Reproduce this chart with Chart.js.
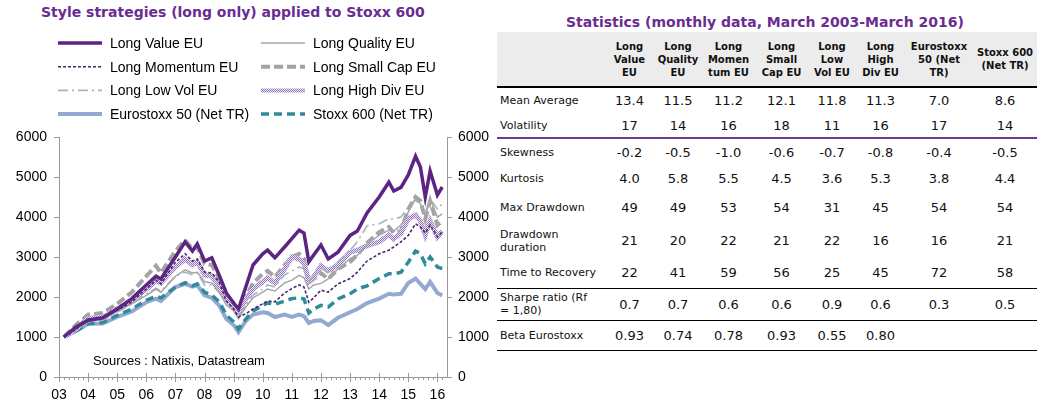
<!DOCTYPE html>
<html>
<head>
<meta charset="utf-8">
<script src="https://cdn.jsdelivr.net/npm/chart.js@4.4.1/dist/chart.umd.min.js"></script>
<style>
    body { margin: 0; background: #fff; width: 1042px; height: 413px; overflow: hidden; position: relative; }
    #chartBox { position: absolute; left: 0; top: 0; width: 490px; height: 413px; }
    .title { position: absolute; font-family: 'DejaVu Sans', Verdana, sans-serif; font-weight: bold; font-size: 14px; line-height: 16px; color: #6B2C91; white-space: nowrap; }
    #leftTitle { left: 41px; top: 4px; }
    #rightTitle { left: 566px; top: 14px; }
    #stats { position: absolute; left: 497px; top: 32px; width: 540px; border-collapse: collapse; table-layout: fixed; font-family: 'DejaVu Sans', Verdana, sans-serif; color: #111; }
    #stats td, #stats th { padding: 0; text-align: center; vertical-align: middle; }
    #stats th { background: #ECECEC; font-size: 10px; line-height: 13px; font-weight: bold; height: 54px; border-bottom: 2px solid #000; }
    #stats td { font-size: 13px; }
    #stats td.label { text-align: left; padding-left: 3px; font-size: 11px; line-height: 13px; }
    #stats tr.purple td { border-bottom: 2px solid #6B3D8F; }
    #stats tr.line td { border-bottom: 1.5px solid #000; }
</style>
</head>
<body>
<div id="leftTitle" class="title">Style strategies (long only) applied to Stoxx 600</div>
<div id="chartBox"><canvas id="styleChart"></canvas></div>
<div id="rightTitle" class="title">Statistics (monthly data, March 2003-March 2016)</div>
<table id="stats"></table>
<script>
// values (base 1000 in March 2003)
const months = [
    '2003-03', '2003-08', '2004-01', '2004-07', '2005-01', '2005-07', '2006-01', '2006-05', '2006-07', '2007-01',
    '2007-05', '2007-08', '2007-10', '2008-01', '2008-04', '2008-07', '2008-10', '2009-01', '2009-03', '2009-06',
    '2009-09', '2010-01', '2010-03', '2010-06', '2010-10', '2011-01', '2011-04', '2011-06', '2011-08', '2011-10',
    '2012-01', '2012-04', '2012-08', '2013-01', '2013-04', '2013-08', '2014-01', '2014-05', '2014-07', '2014-10',
    '2015-01', '2015-04', '2015-06', '2015-08', '2015-10', '2016-01', '2016-03'
];
const yearLabels = ['03', '04', '05', '06', '07', '08', '09', '10', '11', '12', '13', '14', '15', '16'];

const longValue = [1000, 1250, 1420, 1480, 1700, 1960, 2300, 2520, 2450, 3000,
    3380, 3150, 3330, 2900, 2980, 2550, 2100, 1850, 1700, 2250,
    2800, 3080, 3170, 2980, 3250, 3460, 3670, 3600, 2880, 3050,
    3300, 2950, 3120, 3540, 3650, 4100, 4500, 4870, 4650, 4740,
    5050, 5520, 5250, 4500, 5150, 4550, 4750];
const longQuality = [1000, 1180, 1400, 1430, 1650, 1830, 2040, 2200, 2120, 2520,
    2680, 2600, 2620, 2380, 2350, 2120, 1800, 1650, 1460, 1750,
    1980, 2120, 2200, 2150, 2350, 2420, 2540, 2480, 2200, 2300,
    2340, 2450, 2700, 2960, 3040, 3330, 3540, 3670, 3650, 3800,
    4120, 4480, 4330, 4020, 4450, 4000, 4080];
const longMomentum = [1000, 1190, 1450, 1470, 1670, 1880, 2200, 2420, 2330, 2870,
    3080, 2900, 2950, 2620, 2600, 2380, 1900, 1700, 1500, 1580,
    1700, 1830, 1900, 1880, 2100, 2210, 2300, 2250, 1870, 1980,
    2170, 2120, 2330, 2460, 2620, 2900, 3080, 3170, 3250, 3380,
    3540, 3830, 3750, 3600, 3800, 3500, 3620];
const longSmallCap = [1000, 1300, 1560, 1600, 1830, 2120, 2520, 2780, 2600, 3150,
    3420, 3200, 3250, 2830, 2800, 2480, 2000, 1850, 1670, 2000,
    2350, 2580, 2650, 2500, 2800, 3000, 3080, 2950, 2350, 2450,
    2600, 2450, 2700, 2880, 3050, 3350, 3620, 3750, 3600, 3650,
    4200, 4500, 4400, 3950, 4400, 3800, 3900];
const longLowVol = [1000, 1180, 1370, 1420, 1620, 1820, 2080, 2220, 2150, 2520,
    2620, 2560, 2600, 2300, 2300, 2120, 1850, 1700, 1500, 1800,
    2050, 2200, 2300, 2250, 2550, 2650, 2750, 2700, 2380, 2550,
    2720, 2620, 2880, 3170, 3380, 3780, 3830, 3960, 3950, 4000,
    4250, 4420, 4300, 4100, 4450, 4200, 4330];
const longHighDiv = [1000, 1200, 1470, 1480, 1700, 1900, 2200, 2400, 2350, 2750,
    2950, 2800, 2880, 2550, 2520, 2250, 1950, 1800, 1620, 1950,
    2200, 2380, 2480, 2350, 2700, 3000, 2950, 2850, 2380, 2500,
    2780, 2650, 2800, 3120, 3170, 3280, 3380, 3550, 3450, 3600,
    3950, 4050, 3900, 3550, 3900, 3500, 3650];
const eurostoxx50 = [1000, 1150, 1330, 1340, 1500, 1640, 1870, 1960, 1900, 2250,
    2330, 2260, 2300, 2040, 1980, 1790, 1450, 1300, 1120, 1400,
    1560, 1620, 1600, 1500, 1560, 1500, 1560, 1520, 1350, 1400,
    1420, 1300, 1480, 1620, 1700, 1850, 1960, 2080, 2060, 2080,
    2350, 2460, 2330, 2200, 2380, 2100, 2040];
const stoxx600 = [1000, 1150, 1330, 1360, 1540, 1700, 1920, 2020, 1980, 2250,
    2360, 2280, 2330, 2120, 2050, 1880, 1550, 1380, 1200, 1450,
    1650, 1790, 1850, 1820, 1900, 1960, 1980, 1950, 1600, 1700,
    1790, 1750, 1950, 2080, 2200, 2280, 2460, 2580, 2580, 2620,
    2870, 3150, 3080, 2830, 3000, 2750, 2710];

// statistics table
const statColumns = ['Long<br>Value<br>EU', 'Long<br>Quality<br>EU', 'Long<br>Momen<br>tum EU', 'Long<br>Small<br>Cap EU',
    'Long<br>Low<br>Vol EU', 'Long<br>High<br>Div EU', 'Eurostoxx<br>50 (Net<br>TR)', 'Stoxx 600<br>(Net TR)'];
const statLabels = ['Mean Average', 'Volatility', 'Skewness', 'Kurtosis', 'Max Drawdown', 'Drawdown<br>duration',
    'Time to Recovery', 'Sharpe ratio (Rf<br>= 1,80)', 'Beta Eurostoxx'];
const meanAverage = ['13.4', '11.5', '11.2', '12.1', '11.8', '11.3', '7.0', '8.6'];
const volatility = ['17', '14', '16', '18', '11', '16', '17', '14'];
const skewness = ['-0.2', '-0.5', '-1.0', '-0.6', '-0.7', '-0.8', '-0.4', '-0.5'];
const kurtosis = ['4.0', '5.8', '5.5', '4.5', '3.6', '5.3', '3.8', '4.4'];
const maxDrawdown = ['49', '49', '53', '54', '31', '45', '54', '54'];
const drawdownDuration = ['21', '20', '22', '21', '22', '16', '16', '21'];
const timeToRecovery = ['22', '41', '59', '56', '25', '45', '72', '58'];
const sharpeRatio = ['0.7', '0.7', '0.6', '0.6', '0.9', '0.6', '0.3', '0.5'];
const betaEurostoxx = ['0.93', '0.74', '0.78', '0.93', '0.55', '0.80', '', ''];

function buildTable() {
    const widths = [108, 49, 48, 53, 53, 48, 49, 68, 64];
    const heights = [26, 25, 27, 26, 32, 35, 30, 32, 30];
    const rowClass = ['', 'purple', '', '', '', '', 'line', 'line', 'line'];
    const rows = [meanAverage, volatility, skewness, kurtosis, maxDrawdown, drawdownDuration, timeToRecovery, sharpeRatio, betaEurostoxx];

    let html = '<colgroup>' + widths.map(w => `<col style="width:${w}px">`).join('') + '</colgroup>';
    html += '<tr><th></th>' + statColumns.map(c => `<th>${c}</th>`).join('') + '</tr>';
    rows.forEach((row, i) => {
        html += `<tr class="${rowClass[i]}" style="height:${heights[i]}px"><td class="label">${statLabels[i]}</td>`;
        html += row.map(v => `<td>${v}</td>`).join('') + '</tr>';
    });
    document.getElementById('stats').innerHTML = html;
}

function toYear(m) {
    const [y, mo] = m.split('-').map(Number);
    return y + (mo - 1) / 12;
}

function series(values) {
    return values.map((v, i) => ({ x: toYear(months[i]), y: v }));
}

function highDivPattern() {
    const c = document.createElement('canvas');
    c.width = 2;
    c.height = 2;
    const p = c.getContext('2d');
    p.fillStyle = '#EEE7F6';
    p.fillRect(0, 0, 2, 2);
    p.fillStyle = '#9274BE';
    p.fillRect(0, 0, 1, 1);
    p.fillRect(1, 1, 1, 1);
    return p.createPattern(c, 'repeat');
}

// legend, source note and the bimonthly ticks of the date axis
const chartDecor = {
    id: 'chartDecor',
    afterDraw(chart) {
        const ctx = chart.ctx;
        const colX = [58, 261];
        ctx.save();
        chart.data.datasets.forEach((ds, i) => {
            const x = colX[i % 2];
            const y = 43 + Math.floor(i / 2) * 23.7;
            ctx.beginPath();
            ctx.strokeStyle = ds.borderColor;
            ctx.lineWidth = Math.min(ds.borderWidth, 4);
            ctx.setLineDash(ds.borderDash || []);
            ctx.moveTo(x, y);
            ctx.lineTo(x + 44, y);
            ctx.stroke();
            ctx.setLineDash([]);
            ctx.fillStyle = '#000';
            ctx.font = '14px "Liberation Sans", Arial, sans-serif';
            ctx.textBaseline = 'middle';
            ctx.fillText(ds.label, x + 52, y + 1);
        });

        ctx.font = '13px "Liberation Sans", Arial, sans-serif';
        ctx.fillText('Sources : Natixis, Datastream', 93, 361);

        const xs = chart.scales.x;
        const yb = chart.chartArea.bottom;
        ctx.strokeStyle = '#999';
        ctx.lineWidth = 1;
        ctx.beginPath();
        for (let m = 0; 2003 + m / 12 <= xs.max; m += 2) {
            const px = Math.round(xs.getPixelForValue(2003 + m / 12)) + 0.5;
            const major = m % 12 === 0;
            ctx.moveTo(px, major ? yb - 4 : yb);
            ctx.lineTo(px, yb + (major ? 5 : 3));
        }
        ctx.stroke();
        ctx.restore();
    }
};

function yAxis(position, width, padding) {
    return {
        position: position,
        min: 0,
        max: 6000,
        ticks: { stepSize: 1000, padding: padding, color: '#000', font: { size: 14 }, callback: value => String(value) },
        grid: { drawOnChartArea: false, tickLength: 5, color: '#999' },
        border: { color: '#999' },
        afterFit: scale => { scale.width = width; }
    };
}

function createStyleChart() {
    const ctx = document.getElementById('styleChart').getContext('2d');
    Chart.defaults.font.family = '"Liberation Sans", Arial, sans-serif';
    Chart.defaults.color = '#000';

    new Chart(ctx, {
        type: 'line',
        data: {
            datasets: [
                { label: 'Long Value EU', data: series(longValue), borderColor: '#5C2483', borderWidth: 3.5, order: 0 },
                { label: 'Long Quality EU', data: series(longQuality), borderColor: '#A6A6A6', borderWidth: 1.5, order: 2 },
                { label: 'Long Momentum EU', data: series(longMomentum), borderColor: '#4A2470', borderWidth: 1.6, borderDash: [3, 2], order: 1 },
                { label: 'Long Small Cap EU', data: series(longSmallCap), borderColor: '#A3A3A3', borderWidth: 4, borderDash: [9, 4], order: 5 },
                { label: 'Long Low Vol EU', data: series(longLowVol), borderColor: '#A3B6C3', borderWidth: 1.6, borderDash: [10, 4, 2, 4], order: 3 },
                { label: 'Long High Div EU', data: series(longHighDiv), borderColor: highDivPattern(), borderWidth: 5, order: 4 },
                { label: 'Eurostoxx 50 (Net TR)', data: series(eurostoxx50), borderColor: '#93A9D2', borderWidth: 4, order: 7 },
                { label: 'Stoxx 600 (Net TR)', data: series(stoxx600), borderColor: '#2F8B99', borderWidth: 3.5, borderDash: [8, 5], order: 6 }
            ]
        },
        options: {
            responsive: true,
            maintainAspectRatio: false,
            animation: false,
            elements: { point: { radius: 0 }, line: { tension: 0, borderCapStyle: 'butt' } },
            layout: { padding: { top: 137, left: 0, right: 0, bottom: 0 } },
            plugins: { legend: { display: false }, tooltip: { enabled: false } },
            scales: {
                x: {
                    type: 'linear',
                    min: 2003,
                    max: 2016.33,
                    afterBuildTicks: scale => { scale.ticks = yearLabels.map((l, i) => ({ value: 2003 + i })); },
                    ticks: {
                        padding: 10,
                        maxRotation: 0,
                        autoSkip: false,
                        font: { size: 14 },
                        callback: value => yearLabels[Math.round(value) - 2003]
                    },
                    grid: { display: false, drawTicks: false },
                    border: { color: '#999' },
                    afterFit: scale => { scale.height = 36; }
                },
                y: yAxis('left', 59, 7),
                y2: yAxis('right', 43, 6)
            }
        },
        plugins: [chartDecor]
    });
}

document.addEventListener('DOMContentLoaded', () => {
    buildTable();
    createStyleChart();
});
</script>
</body>
</html>
